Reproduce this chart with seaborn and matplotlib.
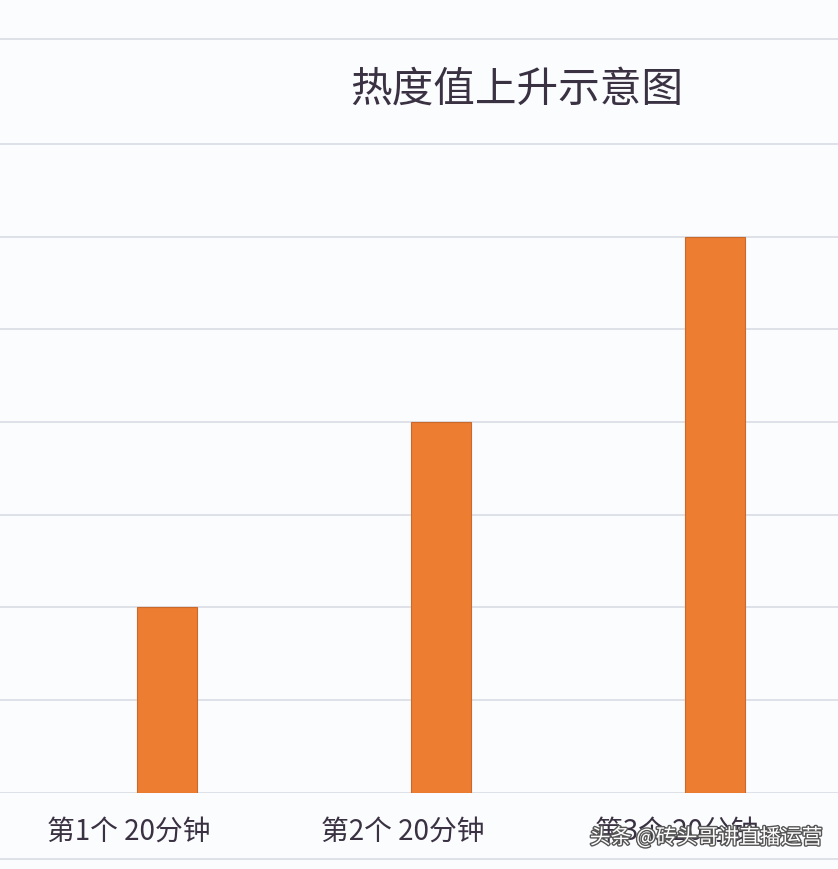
import matplotlib
matplotlib.use("Agg")
import matplotlib.pyplot as plt
import matplotlib.transforms as mtransforms
import matplotlib.patheffects as pe
from matplotlib.lines import Line2D
import seaborn as sns
import pandas as pd

# chart data
categories = ["第1个 20分钟", "第2个 20分钟", "第3个 20分钟"]
heat_values = [2, 4, 6]
title_text = "热度值上升示意图"
watermark_text = "头条 @砖头哥讲直播运营"

sns.set_style("white")
plt.rcParams['font.family'] = ['Noto Sans CJK SC', 'DejaVu Sans']

bg = "#fbfcfe"
grid_color = "#d9dce4"
text_color = "#3a3142"

df = pd.DataFrame({"category": categories, "value": heat_values})

fig = plt.figure(figsize=(8.38, 8.70), dpi=100, facecolor=bg)
ax = fig.add_axes([0, 0.0874, 1, 0.8666])
ax.set_facecolor(bg)

sns.barplot(data=df, x="category", y="value", color="#ed7d31",
            saturation=1, width=0.22, edgecolor="#c9692a", linewidth=0.8,
            ax=ax, zorder=3)

ax.set_xlim(-0.609, 2.449)
ax.set_ylim(0, 8.13)
ax.set_yticks(range(0, 8))
ax.yaxis.grid(True, color=grid_color, linewidth=1.2, zorder=0)
ax.set_yticklabels([])
ax.tick_params(axis="both", length=0)
ax.set_xlabel("")
ax.set_ylabel("")

for side in ["left", "right", "bottom"]:
    ax.spines[side].set_visible(False)
ax.spines["top"].set_color(grid_color)
ax.spines["top"].set_linewidth(1.2)

# category labels, shifted slightly left like the original
offset = mtransforms.ScaledTranslation(-0.38, -0.18, fig.dpi_scale_trans)
for lab in ax.get_xticklabels():
    lab.set_fontsize(20)
    lab.set_color(text_color)
    lab.set_transform(lab.get_transform() + offset)

ax.text(0.617, 0.934, title_text, transform=ax.transAxes, ha="center",
        va="center", fontsize=30, color=text_color, fontweight="light")

# bottom page line below labels
fig.add_artist(Line2D([0, 1], [0.0115, 0.0115], color=grid_color, linewidth=1.2))

# watermark sits over the last label, as in the source image
fig.text(0.982, 0.036, watermark_text, ha="right", va="center", fontsize=15,
         color="white",
         path_effects=[pe.withStroke(linewidth=2, foreground="#555555")])

fig.savefig("out.png", dpi=100, facecolor=bg)
